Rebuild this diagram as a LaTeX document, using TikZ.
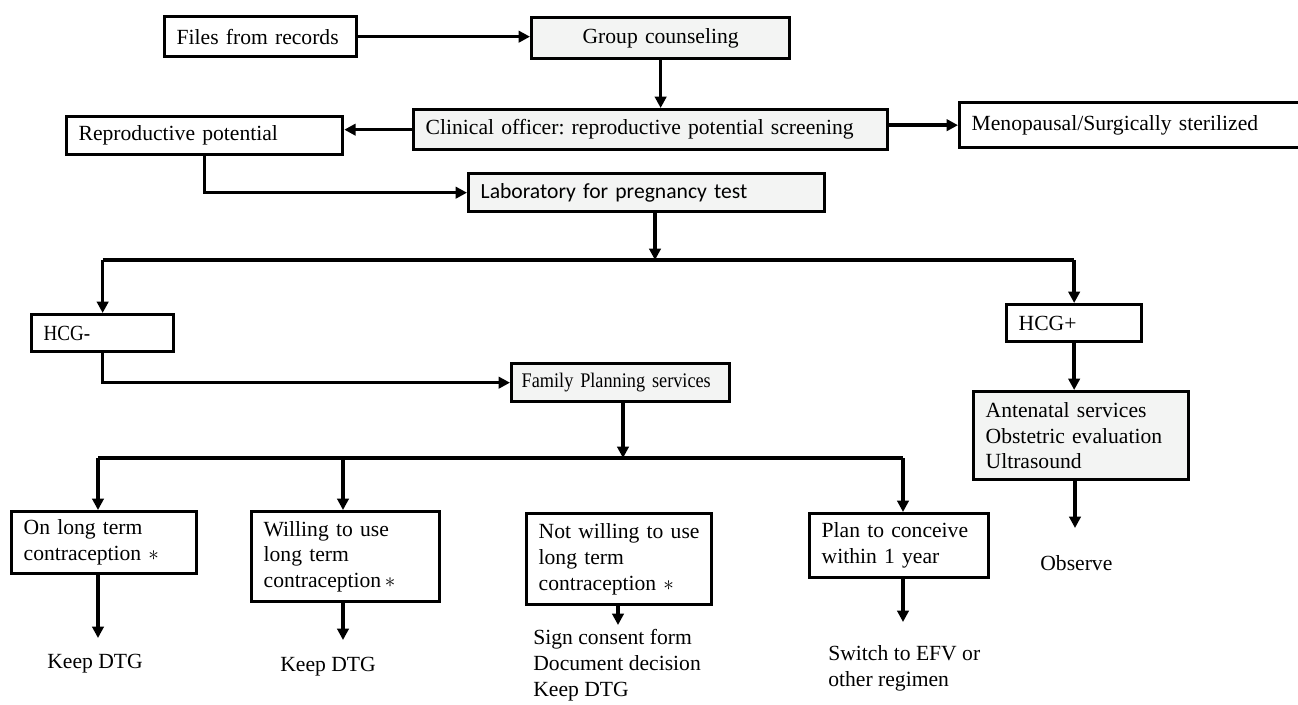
\documentclass[tikz,border=0pt]{standalone}
\usepackage{fontspec}
\setmainfont{Liberation Serif}
\newfontfamily\labfont{Carlito}
\newfontfamily\narrowfont{Liberation Serif}[FakeStretch=0.88]
\usepackage{xcolor}
\usepackage{tikz}
\usetikzlibrary{calc,arrows.meta}
\definecolor{primary}{RGB}{0, 0, 0}
\definecolor{boxfill}{RGB}{243, 244, 243}
\frenchspacing
\tikzset{
  box/.style={draw=primary,line width=1.9pt,anchor=north west,align=left,inner xsep=0.24cm,inner ysep=0pt,font=\fontsize{12.3}{14.7}\selectfont},
  greybox/.style={box,fill=boxfill},
  txt/.style={anchor=west,align=left,inner sep=0pt,font=\fontsize{12.3}{14.7}\selectfont},
  link/.style={primary,line width=2pt},
  arrow/.style={link,-{Triangle[length=6.5pt,width=6.5pt]}}
}

\begin{document}
\begin{tikzpicture}[x=0.02cm,y=-0.02cm]
\clip (0,0) rectangle (1298,704);
% top row
\node[box,text width=3.36cm,minimum height=0.80cm] (files) at (163,15) {Files from records};
\node[greybox,align=center,text width=4.68cm,minimum height=0.82cm] (group) at (530,16) {Group counseling};
\node[greybox,text width=9.00cm,minimum height=0.80cm] (clinical) at (412,108) {Clinical officer: reproductive potential screening};
\node[box,text width=5.04cm,minimum height=0.76cm] (repro) at (65,115) {Reproductive potential};
\node[box,text width=7.52cm,minimum height=0.90cm] (meno) at (958,101) {Menopausal/Surgically sterilized};
\node[greybox,font=\labfont\fontsize{12.3}{14.7}\selectfont,text width=6.64cm,minimum height=0.76cm] (lab) at (467,172) {Laboratory for pregnancy test};
% test result
\node[box,font=\narrowfont\fontsize{12.3}{14.7}\selectfont,text width=2.36cm,minimum height=0.74cm] (hcgm) at (30,313) {HCG-};
\node[box,text width=2.22cm,minimum height=0.74cm] (hcgp) at (1005,303) {HCG+};
\node[greybox,font=\narrowfont\fontsize{11.8}{14.7}\selectfont,inner xsep=0.2cm,text width=3.96cm,minimum height=0.76cm] (fp) at (510,362) {Family Planning services};
\node[greybox,text width=3.82cm,minimum height=1.76cm] (ante) at (972,390) {Antenatal services\\Obstetric evaluation\\Ultrasound};
% family planning choices
\node[box,text width=3.22cm,minimum height=1.24cm] (onlt) at (10,510) {On long term\\contraception $\ast$};
\node[box,text width=3.28cm,minimum height=1.80cm] (will) at (250,510) {Willing to use\\long term\\contraception$\,\ast$};
\node[box,text width=3.22cm,minimum height=1.82cm] (notw) at (525,512) {Not willing to use\\long term\\contraception $\ast$};
\node[box,text width=3.10cm,minimum height=1.28cm] (plan) at (808,512) {Plan to conceive\\within 1 year};
% outcomes
\node[txt] (keep1) at (47,664) {Keep DTG};
\node[txt] (keep2) at (280,667) {Keep DTG};
\node[txt] (sign) at (533,665) {Sign consent form\\Document decision\\Keep DTG};
\node[txt] (switch) at (828,668) {Switch to EFV or\\other regimen};
\node[txt] (observe) at (1040,563) {Observe};
% branch points
\coordinate (split1) at (655,260);
\coordinate (split2) at (623,458);
\coordinate (b1) at (98,458);
\coordinate (b2) at (343,458);
\coordinate (b3) at (903,458);
\coordinate (t1) at (98,638);
\coordinate (t2) at (343,640);
\coordinate (t3) at (618,625);
\coordinate (t4) at (903,622);
\coordinate (t5) at (1075,528);
% connectors
\draw[arrow] (files.east) -- (files.east -| group.west);
\draw[arrow] (group.south) -- (group.south |- clinical.north);
\draw[arrow] (clinical.west) -- (clinical.west -| repro.east);
\draw[arrow] (clinical.east |- meno.west) -- (meno.west);
\draw[arrow] (repro.south) |- (lab.west);
\draw[arrow] (lab.south -| split1) -- (split1);
\draw[link] (split1 -| hcgm.north) -- (split1 -| hcgp.north);
\draw[arrow] (split1 -| hcgm.north) -- (hcgm.north);
\draw[arrow] (split1 -| hcgp.north) -- (hcgp.north);
\draw[arrow] (hcgm.south) |- (fp.west);
\draw[arrow] (hcgp.south) -- (ante.north -| hcgp.south);
\draw[arrow] (fp.south -| split2) -- (split2);
\draw[link] (b1) -- (b3);
\draw[arrow] (b1) -- (b1 |- onlt.north);
\draw[arrow] (b2) -- (b2 |- will.north);
\draw[arrow] (b3) -- (b3 |- plan.north);
\draw[arrow] (onlt.south -| t1) -- (t1);
\draw[arrow] (will.south -| t2) -- (t2);
\draw[arrow] (notw.south -| t3) -- (t3);
\draw[arrow] (plan.south -| t4) -- (t4);
\draw[arrow] (ante.south -| t5) -- (t5);
\end{tikzpicture}
\end{document}
